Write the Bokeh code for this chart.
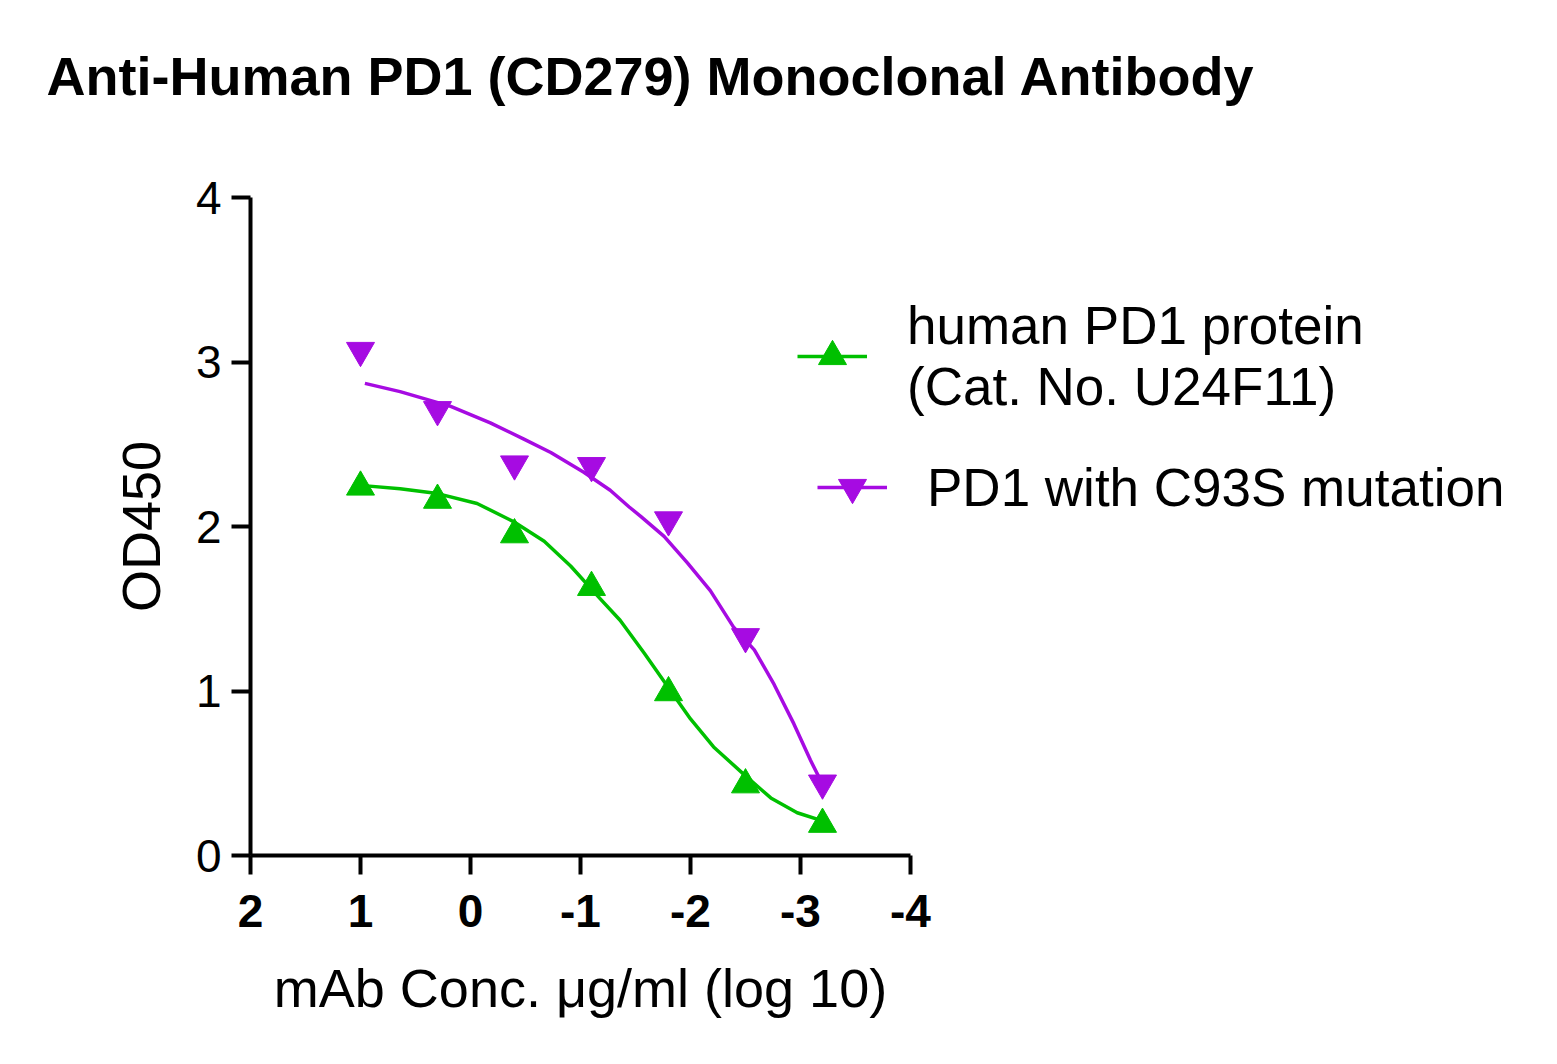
from bokeh.plotting import figure
from bokeh.models import Range1d, FixedTicker, Label, Legend, LegendItem
from bokeh.embed import file_html
from bokeh.resources import INLINE

# ---------------- data ----------------
title_text = "Anti-Human PD1 (CD279) Monoclonal Antibody"
x_label = "mAb Conc. \u03bcg/ml (log 10)"
y_label = "OD450"
x_ticks = [2, 1, 0, -1, -2, -3, -4]
x_tick_labels = ["2", "1", "0", "-1", "-2", "-3", "-4"]
y_ticks = [0, 1, 2, 3, 4]

series_names = ["human PD1 protein\n(Cat. No. U24F11)", "PD1 with C93S mutation"]

log_conc = [1.0, 0.3, -0.4, -1.1, -1.8, -2.5, -3.2]
od_human = [2.24, 2.16, 1.95, 1.63, 0.99, 0.43, 0.19]
od_c93s = [3.07, 2.71, 2.38, 2.37, 2.04, 1.33, 0.44]

fit_x_human = [1.0, 0.64, 0.30, -0.06, -0.39, -0.67, -0.91, -1.18, -1.36, -1.58,
               -1.80, -2.00, -2.21, -2.49, -2.73, -2.97, -3.2]
fit_y_human = [2.25, 2.23, 2.20, 2.14, 2.03, 1.91, 1.76, 1.56, 1.43, 1.23,
               1.02, 0.83, 0.66, 0.49, 0.35, 0.26, 0.21]
fit_x_c93s = [0.96, 0.64, 0.18, -0.18, -0.49, -0.73, -1.03, -1.27, -1.44, -1.55,
              -1.76, -1.97, -2.18, -2.39, -2.58, -2.76, -2.94, -3.09, -3.18]
fit_y_c93s = [2.87, 2.82, 2.73, 2.63, 2.53, 2.45, 2.33, 2.22, 2.12, 2.06,
              1.94, 1.78, 1.61, 1.39, 1.25, 1.04, 0.80, 0.58, 0.46]

GREEN = "#00C000"
PURPLE = "#A60BE2"
FONT = "Liberation Sans"

# ---------------- layout geometry (pixels) ----------------
W, H = 1550, 1060
AX_LEFT, AX_RIGHT, AX_TOP, AX_BOTTOM = 250, 910, 197, 855   # where the axes sit
X0, X1 = x_ticks[0], x_ticks[-1]
Y0, Y1 = y_ticks[0], y_ticks[-1]
ppx = (AX_RIGHT - AX_LEFT) / (X0 - X1)
ppy = (AX_BOTTOM - AX_TOP) / (Y1 - Y0)
# the drawing frame covers the whole canvas so that legend and title are not clipped
xr = Range1d(X0 + AX_LEFT / ppx, X0 - (W - AX_LEFT) / ppx)
yr = Range1d(Y0 - (H - AX_BOTTOM) / ppy, Y0 + AX_BOTTOM / ppy)

p = figure(width=W, height=H, output_backend="svg", toolbar_location=None,
           x_range=xr, y_range=yr,
           min_border_left=0, min_border_right=0,
           min_border_top=0, min_border_bottom=0)
p.outline_line_color = None
p.xgrid.visible = False
p.ygrid.visible = False
p.background_fill_color = "white"
p.border_fill_color = "white"

xa = p.xaxis[0]
ya = p.yaxis[0]
xa.fixed_location = Y0
ya.fixed_location = X0
xa.bounds = (X1, X0)
ya.bounds = (Y0, Y1)

for ax in (xa, ya):
    ax.axis_line_width = 4
    ax.axis_line_color = "black"
    ax.major_tick_line_width = 4
    ax.major_tick_line_color = "black"
    ax.major_tick_out = 19
    ax.major_tick_in = 0
    ax.minor_tick_line_color = None
    ax.major_label_text_font = FONT
    ax.major_label_text_color = "black"
    ax.axis_label_text_font = FONT
    ax.axis_label_text_font_style = "normal"
    ax.axis_label_text_color = "black"
    ax.axis_label_text_font_size = "54px"

xa.ticker = FixedTicker(ticks=x_ticks)
xa.major_label_overrides = dict(zip(x_ticks, x_tick_labels))
ya.ticker = FixedTicker(ticks=y_ticks)
xa.major_label_text_font_size = "46px"
xa.major_label_text_font_style = "bold"
xa.major_label_standoff = 20
ya.major_label_text_font_size = "46px"
ya.major_label_standoff = 10
xa.axis_label = x_label
ya.axis_label = y_label
xa.axis_label_standoff = 28
ya.axis_label_standoff = 22

# curves
line_h = p.line(fit_x_human, fit_y_human, line_color=GREEN, line_width=3.5,
                line_join="round")
line_c = p.line(fit_x_c93s, fit_y_c93s, line_color=PURPLE, line_width=3.5,
                line_join="round")
sc_h = p.scatter(log_conc, od_human, marker="triangle", size=28,
                 fill_color=GREEN, line_color=GREEN)
sc_c = p.scatter(log_conc, od_c93s, marker="inverted_triangle", size=28,
                 fill_color=PURPLE, line_color=PURPLE)

# legends
def make_legend(label, rends, loc):
    return Legend(items=[LegendItem(label=label, renderers=rends)], location=loc,
                  glyph_width=70, glyph_height=70, label_standoff=40,
                  padding=0, margin=0, spacing=0,
                  border_line_color=None, background_fill_alpha=0,
                  label_text_font=FONT, label_text_font_size="53px",
                  label_text_color="black")

p.add_layout(make_legend(series_names[0], [line_h, sc_h], (797, 643)), "center")
p.add_layout(make_legend(series_names[1], [line_c, sc_c], (817, 538)), "center")

# title (top-left)
p.add_layout(Label(x=X0 + (AX_LEFT - 46) / ppx, y=Y0 + (AX_BOTTOM - 75) / ppy,
                   text=title_text, text_font=FONT,
                   text_font_size="54px", text_font_style="bold",
                   text_color="black", text_baseline="alphabetic",
                   text_align="left"))

open("out.html", "w").write(file_html(p, INLINE))
